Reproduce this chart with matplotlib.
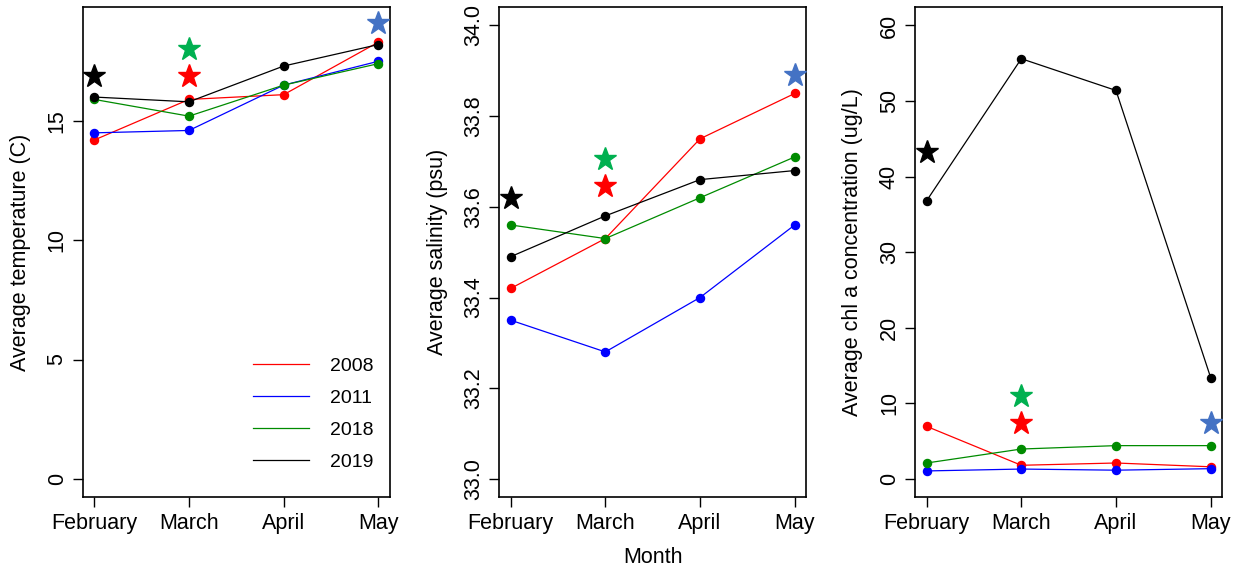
import matplotlib
matplotlib.use("Agg")
import matplotlib.pyplot as plt
import numpy as np

plt.rcParams["font.family"] = ["Liberation Sans", "DejaVu Sans"]

# --- data ---
months = ["February", "March", "April", "May"]
years = ["2008", "2011", "2018", "2019"]
line_colors = ["#ff0000", "#0000ff", "#008b00", "#000000"]

temp = {
    "2008": [14.2, 15.9, 16.1, 18.3],
    "2011": [14.5, 14.6, 16.5, 17.5],
    "2018": [15.9, 15.2, 16.5, 17.4],
    "2019": [16.0, 15.8, 17.3, 18.2],
}
salinity = {
    "2008": [33.42, 33.53, 33.75, 33.85],
    "2011": [33.35, 33.28, 33.40, 33.56],
    "2018": [33.56, 33.53, 33.62, 33.71],
    "2019": [33.49, 33.58, 33.66, 33.68],
}
chl = {
    "2008": [6.95, 1.8, 2.1, 1.6],
    "2011": [1.05, 1.3, 1.15, 1.35],
    "2018": [2.1, 3.95, 4.4, 4.4],
    "2019": [36.8, 55.6, 51.4, 13.4],
}

# star markers: (month index, value, colour)
star_colors = ["#000000", "#00b050", "#ff0000", "#4472c4"]
star_month = [0, 1, 1, 3]
temp_stars = [16.9, 18.0, 16.9, 19.1]
sal_stars = [33.62, 33.706, 33.645, 33.89]
chl_stars = [43.3, 11.0, 7.4, 7.4]

panels = [
    (temp, temp_stars, (0, 19), [0, 5, 10, 15], "{:.0f}",
     "Average temperature (C)", -0.205),
    (salinity, sal_stars, (33.0, 34.0), np.arange(33.0, 34.01, 0.2), "{:.1f}",
     "Average salinity (psu)", -0.200),
    (chl, chl_stars, (0, 60), [0, 10, 20, 30, 40, 50, 60], "{:.0f}",
     "Average chl a concentration (ug/L)", -0.206),
]

fig = plt.figure(figsize=(12.38, 5.72), dpi=100)
lefts = [0.0670, 0.4033, 0.7393]
x = np.arange(1, len(months) + 1)
fs = 15.5

axes = []
for left, (data, stars, ylim, yticks, fmt, ylabel, lab_x) in zip(lefts, panels):
    ax = fig.add_axes([left, 0.1311, 0.2478, 0.8561])
    axes.append(ax)
    for yr, col in zip(years, line_colors):
        ax.plot(x, data[yr], color=col, lw=0.9, marker="o", ms=5.8,
                mec=col, mfc=col, label=yr, zorder=3)
    for m, v, col in zip(star_month, stars, star_colors):
        ax.plot(x[m], v, marker="*", ms=17, color=col, mec=col,
                ls="none", zorder=4, clip_on=False)

    # R-style 4% padding around the data range
    lo, hi = ylim
    ax.set_ylim(lo - 0.04 * (hi - lo), hi + 0.04 * (hi - lo))
    ax.set_xlim(1 - 0.12, 4 + 0.12)

    ax.set_xticks(x)
    ax.set_xticklabels(months, fontsize=fs)
    ax.set_yticks(yticks)
    ax.set_yticklabels([fmt.format(t) for t in yticks], fontsize=fs,
                       rotation=90, va="center", ha="right")
    ax.tick_params(axis="both", direction="out", length=7, width=1,
                   color="black")
    ax.tick_params(axis="x", pad=4.5)
    ax.tick_params(axis="y", pad=4)
    for sp in ax.spines.values():
        sp.set_linewidth(1.2)

    ax.set_ylabel(ylabel, fontsize=fs, va="center")
    ax.yaxis.set_label_coords(lab_x, 0.5)

axes[1].set_xlabel("Month", fontsize=fs, va="center")
axes[1].xaxis.set_label_coords(0.5, -0.1245)

leg = axes[0].legend(loc="center", bbox_to_anchor=(0.752, 0.1695),
                     frameon=False, fontsize=14, handlelength=2.85,
                     handletextpad=1.1, labelspacing=0.75, borderpad=0,
                     markerscale=0)
for h in leg.get_lines():
    h.set_marker("")
    h.set_linewidth(0.9)

fig.savefig("out.png", dpi=100)
